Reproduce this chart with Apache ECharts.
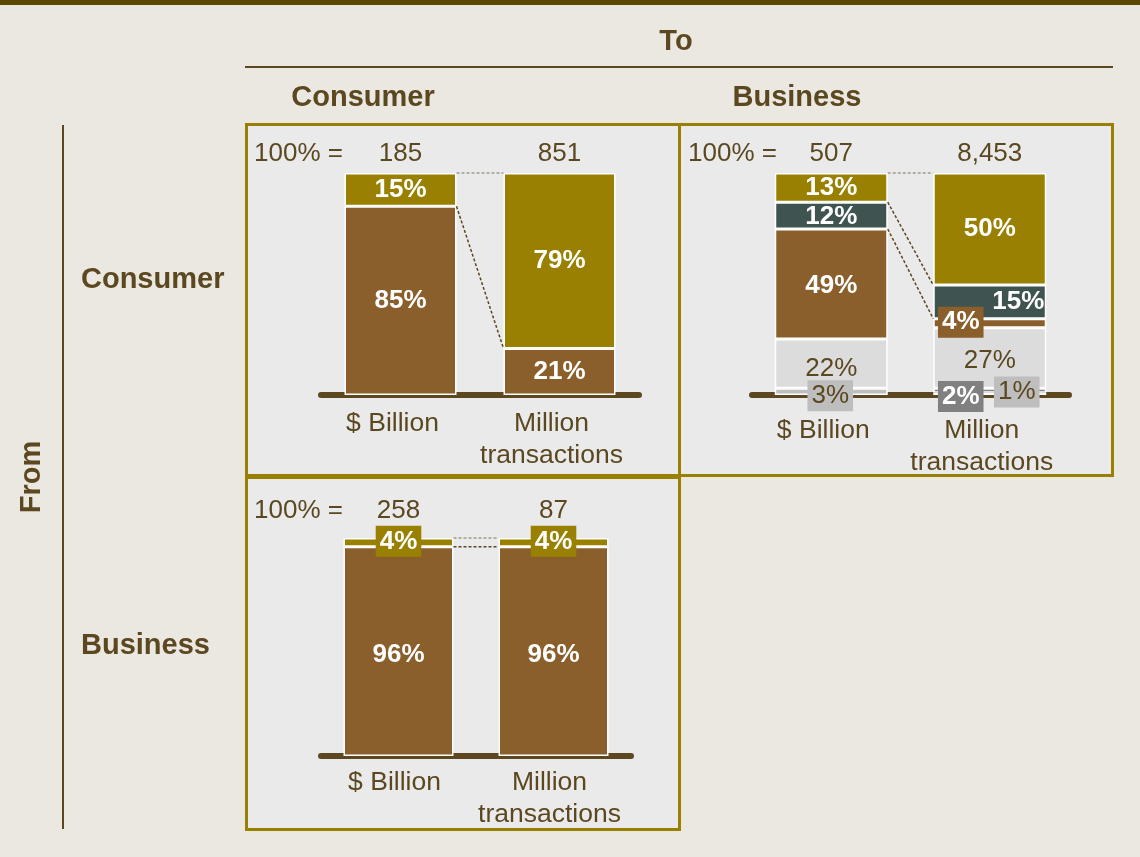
<!DOCTYPE html>
<html>
<head>
<meta charset="utf-8">
<script src="https://cdn.jsdelivr.net/npm/echarts@6/dist/echarts.min.js"></script>
<style>
  html, body { margin: 0; padding: 0; background: #EBE8E1; }
  #chart { width: 1140px; height: 857px; }
</style>
</head>
<body>
<div id="chart"></div>
<script>
// ---- Data -------------------------------------------------------------
const measures = ['$ Billion', 'Million\ntransactions'];

// Consumer -> Consumer (share of total, %)
const c2cTotals = ['185', '851'];
const c2cBrown = [85, 21];
const c2cOlive = [15, 79];

// Consumer -> Business (share of total, %)
const c2bTotals = ['507', '8,453'];
const c2bMidGray = [3, 1];
const c2bDarkGray = [null, 2];
const c2bLightGray = [22, 27];
const c2bBrown = [49, 4];
const c2bTeal = [12, 15];
const c2bOlive = [13, 50];

// Business -> Consumer (share of total, %)
const b2cTotals = ['258', '87'];
const b2cBrown = [96, 96];
const b2cOlive = [4, 4];

// ---- Style -------------------------------------------------------------
const FONT = '"Liberation Sans", Arial, sans-serif';
const TEXT = '#5B4820';
const OLIVE = '#998000';
const BROWN = '#8B5F2B';
const TEAL = '#3F5351';
const LIGHT = '#DCDCDC';
const MID = '#BEBEBE';
const DARK = '#808080';
const PANEL = '#EAEAEA';

const grids = [
  { left: 321, top: 173, width: 318, height: 222 },
  { left: 752, top: 173, width: 317, height: 222 },
  { left: 321, top: 538, width: 310, height: 218 }
];
const barWidths = [112, 113, 110];
const catMargins = [9, 16, 7];
const catShift = [16, 16, 8];
const totalMargins = [6, 6, 14];
const totals = [c2cTotals, c2bTotals, b2cTotals];

const whiteLabel = { show: true, color: '#fff', fontWeight: 'bold', fontSize: 26, fontFamily: FONT };

function seg(gridIndex, name, values, color, label, itemLabels) {
  return {
    type: 'bar',
    name: name,
    stack: 'g' + gridIndex,
    xAxisIndex: gridIndex * 2,
    yAxisIndex: gridIndex,
    barWidth: barWidths[gridIndex],
    itemStyle: { color: color, borderColor: '#fff', borderWidth: 1.5 },
    label: Object.assign({ position: 'inside', formatter: '{c}%' }, label),
    emphasis: { disabled: true },
    data: values.map((v, i) => {
      const extra = itemLabels && itemLabels[i];
      return extra ? { value: v, label: extra } : v;
    })
  };
}

const smallBox = { padding: [3, 4], lineHeight: 25 };

const series = [
  // Consumer -> Consumer
  seg(0, 'brown', c2cBrown, BROWN, whiteLabel),
  seg(0, 'olive', c2cOlive, OLIVE, whiteLabel),
  // Consumer -> Business
  seg(1, 'midGray', c2bMidGray, MID,
    Object.assign({ show: true, color: TEXT, fontSize: 26, fontFamily: FONT, backgroundColor: MID }, smallBox),
    [{ offset: [-1, 4] }, { offset: [27, -2] }]),
  seg(1, 'darkGray', c2bDarkGray, DARK,
    Object.assign({}, whiteLabel, smallBox, { backgroundColor: DARK }),
    [null, { offset: [-29, 6] }]),
  seg(1, 'lightGray', c2bLightGray, LIGHT,
    { show: true, color: TEXT, fontSize: 26, fontFamily: FONT },
    [{ offset: [0, 5] }, { offset: [0, 3] }]),
  seg(1, 'brown', c2bBrown, BROWN, whiteLabel,
    [{ offset: [0, 2] }, Object.assign({ offset: [-29, -1], backgroundColor: BROWN }, smallBox)]),
  seg(1, 'teal', c2bTeal, TEAL, whiteLabel,
    [{ offset: [0, 1] }, { position: 'insideRight', distance: 2 }]),
  seg(1, 'olive', c2bOlive, OLIVE, whiteLabel),
  // Business -> Consumer
  seg(2, 'brown', b2cBrown, BROWN, whiteLabel, [{ offset: [0, 3] }, { offset: [0, 3] }]),
  seg(2, 'olive', b2cOlive, OLIVE,
    Object.assign({}, whiteLabel, smallBox, { backgroundColor: OLIVE, offset: [0, -1] }))
];

const xAxes = [];
const yAxes = [];
grids.forEach((g, i) => {
  xAxes.push({
    type: 'category', gridIndex: i, data: measures, offset: 4,
    axisLine: { lineStyle: { color: '#5C4720', width: 6 } },
    axisTick: { show: false },
    axisLabel: {
      color: TEXT, fontSize: 26.5, fontFamily: FONT, lineHeight: 32,
      margin: catMargins[i], interval: 0, padding: [0, catShift[i], 0, 0]
    },
    z: 1
  });
  xAxes.push({
    type: 'category', gridIndex: i, position: 'top', data: totals[i],
    axisLine: { show: false }, axisTick: { show: false },
    axisLabel: { color: TEXT, fontSize: 26, fontFamily: FONT, lineHeight: 26, margin: totalMargins[i], interval: 0 }
  });
  yAxes.push({ type: 'value', gridIndex: i, min: 0, max: 'dataMax', show: false });
});

function text(x, y, str, opts) {
  return {
    type: 'text', x: x, y: y, silent: true, z: 5,
    rotation: (opts && opts.rotation) || 0,
    style: Object.assign({
      text: str, fill: TEXT, font: 'bold 29px ' + FONT,
      align: 'center', verticalAlign: 'middle'
    }, opts && opts.style)
  };
}
function panel(x, y, w, h) {
  return {
    type: 'rect', silent: true, z: -1,
    shape: { x: x, y: y, width: w, height: h },
    style: { fill: PANEL, stroke: OLIVE, lineWidth: 3 }
  };
}
const hundred = { style: { font: '26px ' + FONT, align: 'left' } };

const staticGraphics = [
  { type: 'rect', silent: true, z: -2, shape: { x: 0, y: 0, width: 1140, height: 5 }, style: { fill: '#5C4A00' } },
  panel(246.5, 124.5, 433, 351),
  panel(679.5, 124.5, 433, 351),
  panel(246.5, 477.5, 433, 352),
  { type: 'line', silent: true, shape: { x1: 245, y1: 67, x2: 1113, y2: 67 }, style: { stroke: '#5C4720', lineWidth: 2 } },
  { type: 'line', silent: true, shape: { x1: 63, y1: 125, x2: 63, y2: 829 }, style: { stroke: '#5C4720', lineWidth: 2 } },
  text(676, 42, 'To'),
  text(363, 98, 'Consumer'),
  text(797, 98, 'Business'),
  text(81, 280, 'Consumer', { style: { align: 'left' } }),
  text(81, 646, 'Business', { style: { align: 'left' } }),
  text(32, 477, 'From', { rotation: Math.PI / 2 }),
  text(254, 154, '100% =', hundred),
  text(688, 154, '100% =', hundred),
  text(254, 511, '100% =', hundred)
];

const chart = echarts.init(document.getElementById('chart'), null, { renderer: 'canvas' });
const option = {
  animation: false,
  backgroundColor: '#EBE8E1',
  grid: grids,
  xAxis: xAxes,
  yAxis: yAxes,
  series: series,
  graphic: staticGraphics
};
chart.setOption(option);

// ---- Dashed connectors between the two bars of each panel -------------
function cum(arrays, upto, idx) {
  let s = 0;
  for (let k = 0; k <= upto; k++) s += arrays[k][idx] || 0;
  return s;
}
function connector(gi, v1, v2, color) {
  const half = barWidths[gi] / 2;
  const p1 = chart.convertToPixel({ xAxisIndex: gi * 2, yAxisIndex: gi }, [0, v1]);
  const p2 = chart.convertToPixel({ xAxisIndex: gi * 2, yAxisIndex: gi }, [1, v2]);
  return {
    type: 'line', silent: true, z: 10,
    shape: { x1: p1[0] + half, y1: p1[1], x2: p2[0] - half, y2: p2[1] },
    style: { stroke: color, lineWidth: 1.5, lineDash: [3, 2] }
  };
}
const GRAYDASH = '#9E9A90';
const DARKDASH = '#5C4720';
const c2cStack = [c2cBrown, c2cOlive];
const c2bStack = [c2bMidGray, c2bDarkGray, c2bLightGray, c2bBrown, c2bTeal, c2bOlive];
const b2cStack = [b2cBrown, b2cOlive];

const links = [
  connector(0, cum(c2cStack, 1, 0), cum(c2cStack, 1, 1), GRAYDASH),
  connector(0, cum(c2cStack, 0, 0), cum(c2cStack, 0, 1), DARKDASH),
  connector(1, cum(c2bStack, 5, 0), cum(c2bStack, 5, 1), GRAYDASH),
  connector(1, cum(c2bStack, 4, 0), cum(c2bStack, 4, 1), DARKDASH),
  connector(1, cum(c2bStack, 3, 0), cum(c2bStack, 3, 1), DARKDASH),
  connector(2, cum(b2cStack, 1, 0), cum(b2cStack, 1, 1), GRAYDASH),
  connector(2, cum(b2cStack, 0, 0), cum(b2cStack, 0, 1), DARKDASH)
];
chart.setOption({ graphic: staticGraphics.concat(links) });
</script>
</body>
</html>
